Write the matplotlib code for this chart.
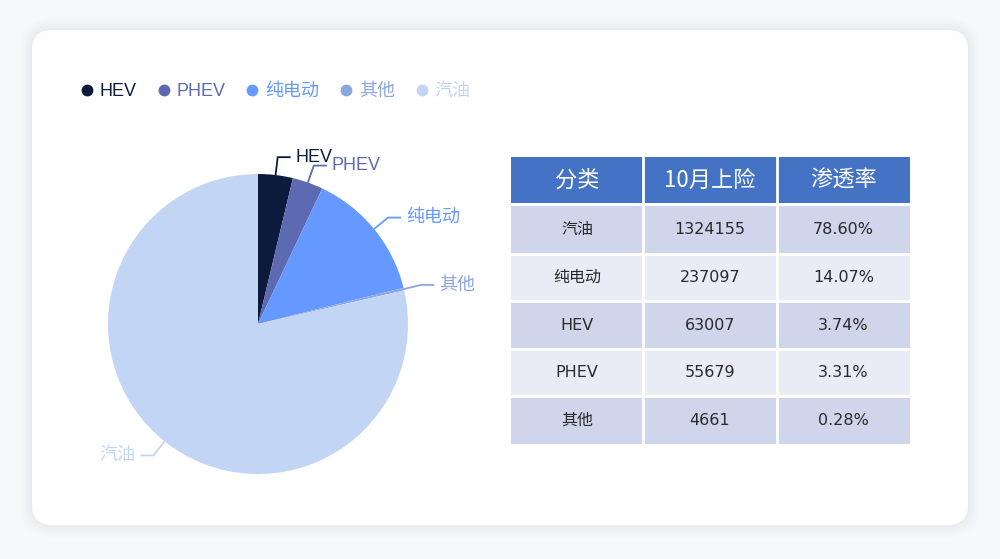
import matplotlib
matplotlib.use("Agg")
import matplotlib.pyplot as plt
from matplotlib.patches import FancyBboxPatch, Rectangle
from matplotlib.lines import Line2D
import numpy as np

plt.rcParams['font.family'] = ['Noto Sans CJK SC', 'DejaVu Sans']
LAB_FONT = ['Liberation Sans', 'Noto Sans CJK SC']
TAB_FONT = ['DejaVu Sans', 'Noto Sans CJK SC']

# ---- data ----
categories = ['HEV', 'PHEV', '纯电动', '其他', '汽油']
values = [63007, 55679, 237097, 4661, 1324155]
colors = ['#0b1a3d', '#5d69b1', '#6699ff', '#8ca6e0', '#c3d5f5']

table_header = ['分类', '10月上险', '渗透率']
table_cats = ['汽油', '纯电动', 'HEV', 'PHEV', '其他']
table_counts = ['1324155', '237097', '63007', '55679', '4661']
table_rates = ['78.60%', '14.07%', '3.74%', '3.31%', '0.28%']

W, H = 1000, 559
fig = plt.figure(figsize=(W / 100, H / 100), dpi=100)
fig.patch.set_facecolor('#f7f8fa')
ax = fig.add_axes([0, 0, 1, 1])

def Y(y):
    return H - y

# card with soft shadow
for i, a in enumerate([0.012, 0.012, 0.015, 0.018, 0.02]):
    pad = 12 - i * 2.5
    ax.add_patch(FancyBboxPatch((32 - pad, Y(525) - pad), 936 + 2 * pad, 495 + 2 * pad,
                                boxstyle="round,pad=0,rounding_size=%f" % (20 + pad),
                                facecolor='#5a6a90', alpha=a, edgecolor='none', zorder=0))
ax.add_patch(FancyBboxPatch((32, Y(525)), 936, 495,
                            boxstyle="round,pad=0,rounding_size=20",
                            facecolor='white', edgecolor='none', zorder=1))

# ---- pie ----
cx, cy, R = 258, Y(324), 150
wedges, _ = ax.pie(values, colors=colors, startangle=90, counterclock=False,
                   center=(cx, cy), radius=R, wedgeprops=dict(linewidth=0), frame=True)
for w in wedges:
    w.set_zorder(3)
ax.set_xlim(0, W)
ax.set_ylim(0, H)
ax.set_aspect('equal')
ax.axis('off')

total = float(sum(values))
cum = 0.0
for name, v, c in zip(categories, values, colors):
    mid = 90 - (cum + v / 2) / total * 360
    cum += v
    t = np.deg2rad(mid)
    x0, y0 = cx + R * np.cos(t), cy + R * np.sin(t)
    x1, y1 = cx + (R + 18) * np.cos(t), cy + (R + 18) * np.sin(t)
    sgn = 1 if np.cos(t) >= 0 else -1
    x2 = x1 + sgn * 13
    ax.plot([x0, x1, x2], [y0, y1, y1], color=c, lw=1.3, zorder=4,
            solid_capstyle='butt', solid_joinstyle='miter')
    ax.text(x2 + sgn * 5, y1, name, color=c, fontsize=13, family=LAB_FONT,
            ha='left' if sgn > 0 else 'right', va='center', zorder=4)

# ---- legend ----
handles = [Line2D([], [], marker='o', linestyle='none', markersize=7.5,
                  markerfacecolor=c, markeredgecolor=c) for c in colors]
leg = fig.legend(handles, categories, loc='center left', bbox_to_anchor=(0.0815, 1 - 91.5 / H),
                 ncol=5, frameon=False, prop={'family': LAB_FONT, 'size': 13},
                 handlelength=0.6, handletextpad=0.4, columnspacing=1.2,
                 labelcolor=colors, borderaxespad=0, borderpad=0)
leg.set_zorder(5)

# ---- table ----
col_x = [511, 643, 777, 910]
hdr_top, hdr_bot = 157, 203
row_h = 47.6
gap = 2.0
ax.add_patch(Rectangle((col_x[0], Y(hdr_bot)), col_x[-1] - col_x[0], hdr_bot - hdr_top,
                       facecolor='#4472c4', edgecolor='none', zorder=3))
for j in range(3):
    ax.text((col_x[j] + col_x[j + 1]) / 2, Y((hdr_top + hdr_bot) / 2), table_header[j],
            color='white', fontsize=16, ha='center', va='center', zorder=5)
for j in range(1, 3):
    ax.plot([col_x[j], col_x[j]], [Y(hdr_top), Y(hdr_bot)], color='white', lw=gap, zorder=4)

rows = list(zip(table_cats, table_counts, table_rates))
top = hdr_bot + 3
for i, row in enumerate(rows):
    y_top = top + i * row_h
    fc = '#cfd5ea' if i % 2 == 0 else '#e9ebf5'
    ax.add_patch(Rectangle((col_x[0], Y(y_top + row_h)), col_x[-1] - col_x[0], row_h,
                           facecolor=fc, edgecolor='none', zorder=3))
    for j in range(3):
        ax.text((col_x[j] + col_x[j + 1]) / 2, Y(y_top + row_h / 2), row[j],
                color='#2a2a2a', fontsize=11.5, family=TAB_FONT,
                ha='center', va='center', zorder=5)
    if i > 0:
        ax.plot([col_x[0], col_x[-1]], [Y(y_top), Y(y_top)], color='white', lw=gap, zorder=4)
for j in range(1, 3):
    ax.plot([col_x[j], col_x[j]], [Y(top), Y(top + len(rows) * row_h)], color='white',
            lw=gap, zorder=4)

fig.savefig('out.png', dpi=100, facecolor=fig.get_facecolor())
